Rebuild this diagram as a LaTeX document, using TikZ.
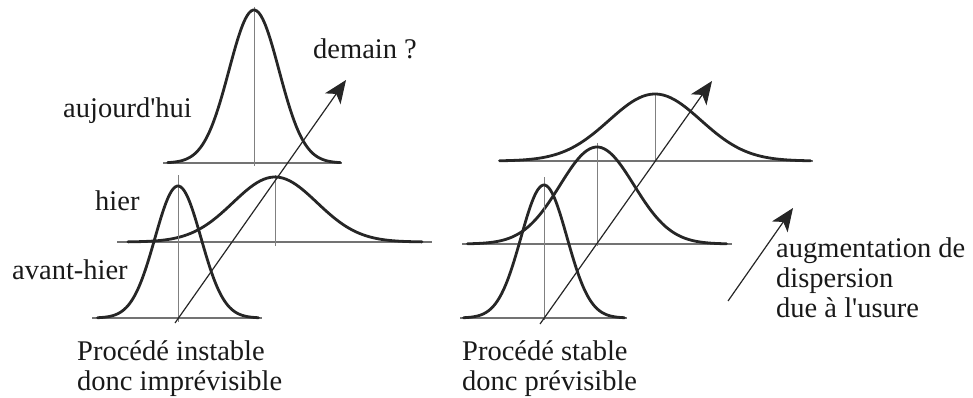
\documentclass[tikz,border=0pt]{standalone}
\usepackage{fontspec}
\setmainfont{Liberation Serif}[Ligatures=TeXOff]
\usetikzlibrary{arrows.meta}
\newcommand{\gcurve}[5]{%
  \draw[curve] plot[domain=-#5:#5,samples=90,smooth] ({#1+#3*\x},{#2-#4*exp(-0.5*\x*\x)});}
\begin{document}
\begin{tikzpicture}[x=1pt,y=-1pt,
  curve/.style={line width=2.8pt,black!85,line join=round,line cap=round},
  axis/.style={line width=1.2pt,black!55},
  vline/.style={line width=0.9pt,black!50},
  trend/.style={line width=1.2pt,black!85,-{Stealth[length=23pt,width=19pt,inset=6pt]}},
  lbl/.style={inner sep=0pt,anchor=base west,font=\fontsize{28.5}{30}\selectfont,text=black!90}]
\useasboundingbox (0,0) rectangle (973,398);
% ---------- left panel ----------
\draw[axis] (163,163) -- (342,163);
\draw[vline] (254,7) -- (254,166);
\gcurve{254}{163}{25}{153}{3.45}
\draw[axis] (117,242) -- (432,242);
\draw[vline] (275,175) -- (275,246);
\gcurve{275}{242}{42}{65}{3.5}
\draw[axis] (92,318) -- (262,318);
\draw[vline] (178,175) -- (178,322);
\gcurve{178}{318}{23}{132}{3.5}
\coordinate (la) at (175,323);
\coordinate (lb) at (346,80);
\draw[trend] (la) -- (lb);
% ---------- right panel ----------
\draw[axis] (500,161) -- (813,161);
\draw[vline] (655,94) -- (655,161);
\gcurve{655}{161}{46}{67}{3.38}
\draw[axis] (462,244) -- (732,244);
\draw[vline] (597,143) -- (597,246);
\gcurve{597}{244}{37}{97}{3.5}
\draw[axis] (460,318) -- (627,318);
\draw[vline] (544,177) -- (544,320);
\gcurve{544}{318}{23}{133}{3.5}
\coordinate (ra) at (540,324);
\coordinate (rb) at (712,81);
\draw[trend] (ra) -- (rb);
\coordinate (ua) at (728,301);
\coordinate (ub) at (793,208);
\draw[trend] (ua) -- (ub);
% ---------- labels ----------
\node[lbl] (demain) at (313,59) {demain ?};
\node[lbl] (auj) at (63,118) {aujourd'hui};
\node[lbl] (hier) at (95,210) {hier};
\node[lbl] (avh) at (12,279) {avant-hier};
\node[lbl] (pi1) at (77,360) {Procédé instable};
\node[lbl] (pi2) at (77,390) {donc imprévisible};
\node[lbl] (ps1) at (462,360) {Procédé stable};
\node[lbl] (ps2) at (462,390) {donc prévisible};
\node[lbl] (au1) at (776,257) {augmentation de};
\node[lbl] (au2) at (776,287) {dispersion};
\node[lbl] (au3) at (776,317) {due à l'usure};
\end{tikzpicture}
\end{document}
